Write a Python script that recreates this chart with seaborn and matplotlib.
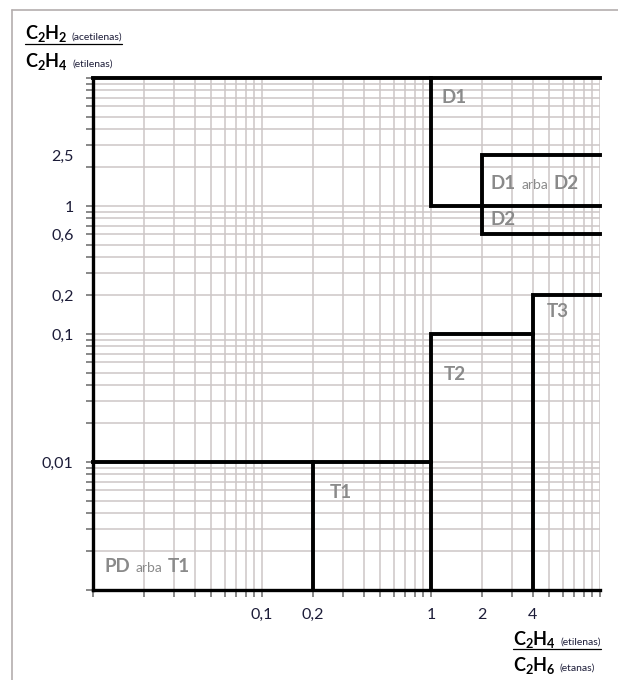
import numpy as np
import pandas as pd
import matplotlib
matplotlib.use("Agg")
import matplotlib.pyplot as plt
import seaborn as sns
from matplotlib.ticker import LogLocator, FixedLocator, FixedFormatter, NullFormatter
from matplotlib.offsetbox import TextArea, HPacker, AnnotationBbox
from matplotlib.lines import Line2D

sns.set_style("white")
plt.rcParams['font.family'] = ['Lato', 'DejaVu Sans']
plt.rcParams['mathtext.fontset'] = 'custom'
plt.rcParams['mathtext.rm'] = 'Lato'
plt.rcParams['mathtext.bf'] = 'Lato:bold'

# zone boundaries, x = C2H4/C2H6, y = C2H2/C2H4
top_x = [0.01, 10]
top_y = [10, 10]
d1_x = [1, 1, 10]
d1_y = [10, 1, 1]
d2_x = [10, 2, 2, 10]
d2_y = [2.5, 2.5, 0.6, 0.6]
t3_x = [4, 4, 10]
t3_y = [0.001, 0.2, 0.2]
t2_x = [1, 1, 4]
t2_y = [0.001, 0.1, 0.1]
t1_x = [0.01, 1]
t1_y = [0.01, 0.01]
pd_x = [0.2, 0.2]
pd_y = [0.001, 0.01]

x_ticks = [0.1, 0.2, 1, 2, 4]
x_labels = ['0,1', '0,2', '1', '2', '4']
y_ticks = [2.5, 1, 0.6, 0.2, 0.1, 0.01]
y_labels = ['2,5', '1', '0,6', '0,2', '0,1', '0,01']

zone_names = [['D1'], ['D1', 'D2'], ['D2'], ['T3'], ['T2'], ['T1'], ['PD', 'T1']]
zone_x = [1.16, 2.26, 2.26, 4.85, 1.19, 0.252, 0.0117]
zone_y = [7.1, 1.51, 0.79, 0.149, 0.0486, 0.0058, 0.00152]

segs = [(top_x, top_y), (d1_x, d1_y), (d2_x, d2_y), (t3_x, t3_y),
        (t2_x, t2_y), (t1_x, t1_y), (pd_x, pd_y)]
rows = []
for i, (xs, ys) in enumerate(segs):
    for x, y in zip(xs, ys):
        rows.append({'x': x, 'y': y, 'seg': i})
df = pd.DataFrame(rows)

fig = plt.figure(figsize=(6.18, 6.8), dpi=100)
ax = fig.add_axes([93 / 618, 1 - 590 / 680, 507 / 618, 512 / 680])
ax.set_xscale('log')
ax.set_yscale('log')

sns.lineplot(data=df, x='x', y='y', units='seg', estimator=None, sort=False,
             color='black', lw=2.8, ax=ax, legend=False)
for l in ax.lines:
    l.set_clip_on(False)
    l.set_solid_capstyle('projecting')
    l.set_solid_joinstyle('miter')

ax.set_xlim(0.01, 10)
ax.set_ylim(0.001, 10)
ax.set_xlabel('')
ax.set_ylabel('')

for axis, ticks, labels in [(ax.xaxis, x_ticks, x_labels), (ax.yaxis, y_ticks, y_labels)]:
    axis.set_major_locator(FixedLocator(ticks))
    axis.set_major_formatter(FixedFormatter(labels))
    axis.set_minor_locator(LogLocator(base=10, subs=np.arange(1, 10), numticks=50))
    axis.set_minor_formatter(NullFormatter())
    axis.remove_overlapping_locs = False

ax.grid(True, which='minor', color='#cdc6c6', lw=1.1)
ax.grid(False, which='major')
ax.tick_params(which='major', length=0, labelsize=11.5, labelcolor='#1c1c38')
ax.tick_params(axis='y', which='major', pad=14)
ax.tick_params(axis='x', which='major', pad=13)
ax.tick_params(which='minor', left=True, bottom=True, length=5, width=1.3,
               color='#7f7f7f', direction='out')

for s in ['top', 'right']:
    ax.spines[s].set_visible(False)
for s in ['left', 'bottom']:
    ax.spines[s].set_color('black')
    ax.spines[s].set_linewidth(2.4)

zone_color = '#8a8a8a'
for parts, x, y in zip(zone_names, zone_x, zone_y):
    kids = []
    for i, p in enumerate(parts):
        if i:
            kids.append(TextArea('arba', textprops=dict(color=zone_color, fontsize=10)))
        kids.append(TextArea(p, textprops=dict(color=zone_color, fontsize=13.5, fontweight='bold')))
    box = HPacker(children=kids, align='baseline', pad=0, sep=4)
    ax.add_artist(AnnotationBbox(box, (x, y), xycoords='data', box_alignment=(0, 0.5),
                                 frameon=False, pad=0))

# axis titles in the corners
def corner_label(formula, note, xy):
    box = HPacker(children=[
        TextArea(formula, textprops=dict(color='black', fontsize=13)),
        TextArea(note, textprops=dict(color='#1c1c38', fontsize=7.5))],
        align='baseline', pad=0, sep=3)
    ab = AnnotationBbox(box, xy, xycoords='figure pixels', box_alignment=(0, 0.5),
                        frameon=False, pad=0)
    fig.add_artist(ab)
    return ab

top1 = corner_label(r'$\mathbf{C_2H_2}$', '(acetilenas)', (25, 680 - 34))
corner_label(r'$\mathbf{C_2H_4}$', '(etilenas)', (25, 680 - 61))
bot1 = corner_label(r'$\mathbf{C_2H_4}$', '(etilenas)', (513, 680 - 639))
corner_label(r'$\mathbf{C_2H_6}$', '(etanas)', (513, 680 - 665))

fig.canvas.draw()
r = fig.canvas.get_renderer()
for ab in [top1, bot1]:
    bb = ab.get_window_extent(r)
    fig.add_artist(Line2D([bb.x0 / 618, bb.x1 / 618], [(bb.y0 + 1) / 680] * 2,
                          transform=fig.transFigure, color='black', lw=0.9))

# outer frame
fig.add_artist(Line2D([12 / 618, 12 / 618], [0, 1 - 10 / 680], transform=fig.transFigure,
                      color='#b4aeae', lw=1.2))
fig.add_artist(Line2D([12 / 618, 1], [1 - 10 / 680] * 2, transform=fig.transFigure,
                      color='#b4aeae', lw=1.2))

fig.savefig('out.png', dpi=100)
